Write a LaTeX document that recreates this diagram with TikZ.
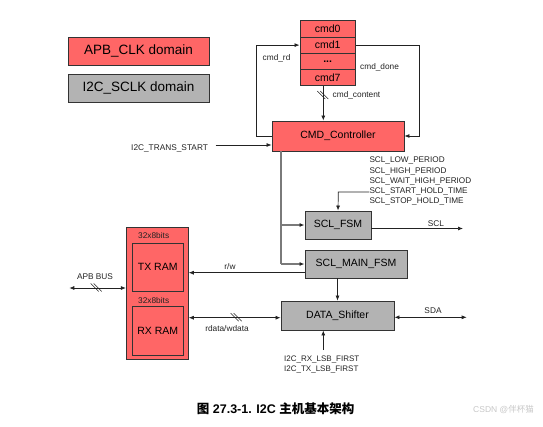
\documentclass[tikz,border=0pt]{standalone}
\usepackage{fontspec}
\setmainfont{Liberation Sans}
\newfontfamily\cjkfont{Noto Sans CJK SC}
\usetikzlibrary{arrows.meta}
\definecolor{apbred}{HTML}{FF6666}
\definecolor{sclgray}{HTML}{B3B3B3}
\definecolor{edge}{HTML}{333333}
\definecolor{wire}{HTML}{222222}
\definecolor{gwire}{HTML}{7A7A7A}
\begin{document}
\begin{tikzpicture}[x=1pt,y=-1pt,
  redbox/.style={draw=edge,line width=0.9pt,fill=apbred,inner sep=0pt,font=\fontsize{10.5}{12}\selectfont},
  graybox/.style={draw=edge,line width=0.9pt,fill=sclgray,inner sep=0pt,font=\fontsize{10.5}{12}\selectfont},
  cmdcell/.style={redbox,minimum width=55.5pt,minimum height=16.3pt},
  lbl/.style={inner sep=0pt,font=\fontsize{8.3}{10}\selectfont,text=wire},
  conn/.style={draw=wire,line width=0.7pt,-{Latex[length=5pt,width=4pt,color=wire]}},
  bconn/.style={draw=wire,line width=0.7pt,{Latex[length=5pt,width=4pt]}-{Latex[length=5pt,width=4pt]}},
  gconn/.style={draw=gwire,line width=1.1pt}
]
\useasboundingbox (0,0) rectangle (543,426);
% legend
\node[redbox,minimum width=141pt,minimum height=28pt,font=\fontsize{13.5}{15}\selectfont] (lg1) at (138.5,51) {APB\_CLK domain};
\node[graybox,minimum width=141pt,minimum height=28pt,font=\fontsize{13.5}{15}\selectfont] (lg2) at (138.5,88) {I2C\_SCLK domain};
% cmd stack
\node[cmdcell] (cmd0) at (327.7,28.8) {cmd0};
\node[cmdcell] (cmd1) at (327.7,45.1) {cmd1};
\node[cmdcell] (cmdd) at (327.7,61.4) {\textbf{...}};
\node[cmdcell] (cmd7) at (327.7,77.7) {cmd7};
% main blocks
\node[redbox,minimum width=132pt,minimum height=30pt] (ctrl) at (338,136) {CMD\_Controller};
\node[graybox,minimum width=66pt,minimum height=28pt] (sclfsm) at (338,225) {SCL\_FSM};
\node[graybox,minimum width=102pt,minimum height=28pt] (mainfsm) at (356,264) {SCL\_MAIN\_FSM};
\node[graybox,minimum width=113pt,minimum height=29pt] (shift) at (337.5,315.5) {DATA\_Shifter};
% RAM
\node[redbox,minimum width=62pt,minimum height=132pt] (ram) at (157.3,293.3) {};
\node[redbox,minimum width=51.3pt,minimum height=47.7pt] (tx) at (157.7,267.2) {TX RAM};
\node[redbox,minimum width=51.3pt,minimum height=48.6pt] (rx) at (157.7,331) {RX RAM};
\node[lbl] (b1) at (153.7,236) {32x8bits};
\node[lbl] (b2) at (153.7,300.7) {32x8bits};
% labels
\node[lbl,anchor=west] (lrd) at (262.5,58.3) {cmd\_rd};
\node[lbl,anchor=west] (ldone) at (360,67.5) {cmd\_done};
\node[lbl,anchor=west] (lcont) at (332.5,95.3) {cmd\_content};
\node[lbl,anchor=west] (lts) at (131,148) {I2C\_TRANS\_START};
\node[lbl,anchor=north west,align=left,font=\fontsize{8.2}{10.25}\selectfont] (lscl) at (369.3,157) {SCL\_LOW\_PERIOD\\SCL\_HIGH\_PERIOD\\SCL\_WAIT\_HIGH\_PERIOD\\SCL\_START\_HOLD\_TIME\\SCL\_STOP\_HOLD\_TIME};
\node[lbl] (lsclout) at (436,224) {SCL};
\node[lbl] (lapb) at (95,277) {APB BUS};
\node[lbl] (lrw) at (230,266.5) {r/w};
\node[lbl] (lrdw) at (227,328.7) {rdata/wdata};
\node[lbl] (lsda) at (433,310.7) {SDA};
\node[lbl,anchor=north west,align=left,font=\fontsize{8}{10}\selectfont] (llsb) at (284,355.5) {I2C\_RX\_LSB\_FIRST\\I2C\_TX\_LSB\_FIRST};
% coordinates
\coordinate (rdx) at (256.7,136);
\coordinate (donex) at (419.3,45.1);
\coordinate (tsx) at (215.7,145);
\coordinate (gtop) at (281,151);
\coordinate (gbot) at (281,264);
\coordinate (sclend) at (463,228.5);
\coordinate (paramx) at (338.3,192);
\coordinate (apbend) at (69.3,288);
\coordinate (sdaend) at (466.7,317.3);
\coordinate (lsbx) at (323.3,350);
% connectors
\draw[conn] (ctrl.west) -- (rdx) |- (cmd1.west);
\draw[conn] (cmd1.east) -- (donex) |- (ctrl.east);
\draw[conn] (cmd7.south -| 323.3,0) -- (ctrl.north -| 323.3,0);
\draw[conn] (tsx) -- (ctrl.west |- tsx);
\draw[gconn] (gtop) -- (gbot);
\draw[conn,draw=gwire,line width=1.1pt] (281,225) -- (sclfsm.west);
\draw[conn,draw=gwire,line width=1.1pt] (gbot) -- (mainfsm.west);
\draw[conn] (lscl.west |- paramx) -- (paramx) -- (sclfsm.north);
\draw[conn] (sclfsm.east |- sclend) -- (sclend);
\draw[conn] (mainfsm.west |- 0,272.7) -- (ram.east |- 0,272.7);
\draw[conn] (shift.north |- mainfsm.south) -- (shift.north);
\draw[bconn] (ram.east |- 0,317.7) -- (shift.west |- 0,317.7);
\draw[bconn] (apbend) -- (ram.west |- apbend);
\draw[bconn] (shift.east |- sdaend) -- (sdaend);
\draw[conn] (lsbx) -- (shift.south -| lsbx);
% bus slash marks
\foreach \cx/\cy in {323.3/95.5, 96.7/288, 236.7/317.7}{
  \draw[wire,line width=0.6pt] (\cx-6,\cy-4.5) -- (\cx+2,\cy+3.5);
  \draw[wire,line width=0.6pt] (\cx-3,\cy-4.5) -- (\cx+5,\cy+3.5);
}
% caption
\node[inner sep=0pt,anchor=west,font=\fontsize{12.5}{14}\selectfont\bfseries] (cap) at (196.7,409) {{\cjkfont 图} 27.3-1. I2C {\cjkfont 主机基本架构}};
\node[inner sep=0pt,anchor=west,text=black!22,font=\fontsize{8.5}{10}\selectfont] (wm) at (473,410) {CSDN @{\cjkfont 伴杯猫}};
\end{tikzpicture}
\end{document}
